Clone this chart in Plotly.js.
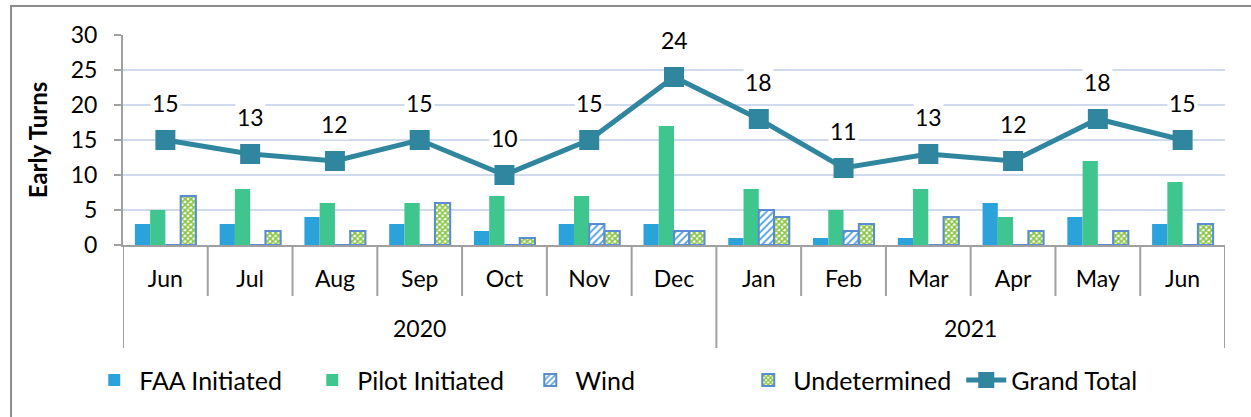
<!DOCTYPE html>
<html>
<head>
<meta charset="utf-8">
<script src="https://cdn.plot.ly/plotly-3.0.1.min.js"></script>
<style>html,body{margin:0;padding:0;background:#fff;}#chart{width:1251px;height:417px;}</style>
</head>
<body>
<div id="chart"></div>
<script>
const months = ["Jun","Jul","Aug","Sep","Oct","Nov","Dec","Jan","Feb","Mar","Apr","May","Jun"];
const years = ["2020","2020","2020","2020","2020","2020","2020","2021","2021","2021","2021","2021","2021"];
const faaInitiated = [3,3,4,3,2,3,3,1,1,1,6,4,3];
const pilotInitiated = [5,8,6,6,7,7,17,8,5,8,4,12,9];
const wind = [0,0,0,0,0,3,2,5,2,0,0,0,0];
const undetermined = [7,2,2,6,1,2,2,4,3,4,2,2,3];
const grandTotal = [15,13,12,15,10,15,24,18,11,13,12,18,15];
const yTicks = [0,5,10,15,20,25,30];

const FONT = "Lato, 'Noto Sans', sans-serif";
const idx = months.map((_, i) => i);

const traces = [
  {type:'bar', name:'FAA Initiated', x:idx, y:faaInitiated, marker:{color:'#2CA2DB'}},
  {type:'bar', name:'Pilot Initiated', x:idx, y:pilotInitiated, marker:{color:'#3FC68F'}},
  {type:'bar', name:'Wind', x:idx, y:wind,
   marker:{color:'#ffffff', line:{color:'#5B8BD0', width:2},
           pattern:{shape:'/', fgcolor:'#5DA5E0', bgcolor:'#ffffff', size:5, solidity:0.4}}},
  {type:'bar', name:'Undetermined', x:idx, y:undetermined,
   marker:{color:'#ffffff', line:{color:'#5B8BD0', width:2},
           pattern:{shape:'x', fgcolor:'#86C440', bgcolor:'#ffffff', size:4, solidity:0.65}}},
  {type:'scatter', mode:'lines+markers', name:'Grand Total', x:idx, y:grandTotal,
   line:{color:'#31869F', width:5}, marker:{symbol:'square', size:20, color:'#31869F'}}
];

const shapes = [];
idx.forEach(i => {
  if (i === 0) return;
  const isYear = years[i-1] !== years[i];
  shapes.push({type:'line', xref:'x', yref:'paper', ysizemode:'pixel', yanchor:0,
    x0:i-0.5, x1:i-0.5, y0:0, y1:isYear ? -103 : -51, line:{color:'#A0A0A0', width:2}});
});
[-0.5, months.length-0.5].forEach(xv => {
  shapes.push({type:'line', xref:'x', yref:'paper', ysizemode:'pixel', yanchor:0,
    x0:xv, x1:xv, y0:0, y1:-103, line:{color:'#A0A0A0', width:2}});
});
shapes.push({type:'rect', xref:'paper', yref:'paper', x0:-0.1016, x1:1.2, y0:-1.5, y1:1.138,
  line:{color:'#8C8C8C', width:2}, fillcolor:'rgba(0,0,0,0)', layer:'below'});

const annotations = [];
idx.forEach(i => {
  annotations.push({x:i, y:grandTotal[i], text:String(grandTotal[i]), showarrow:false,
    yshift:37, bgcolor:'#ffffff', font:{family:FONT, size:23, color:'#000'}});
});
const uniqueYears = [...new Set(years)];
uniqueYears.forEach(yr => {
  const ids = idx.filter(i => years[i] === yr);
  const center = (ids[0] + ids[ids.length-1]) / 2;
  annotations.push({x:center, xref:'x', y:0, yref:'paper', yshift:-83, yanchor:'middle',
    text:yr, showarrow:false, font:{family:FONT, size:23, color:'#000'}});
});

const layout = {
  width:1251, height:417,
  margin:{l:123, r:26, t:35, b:172},
  paper_bgcolor:'#fff', plot_bgcolor:'#fff',
  font:{family:FONT, size:21, color:'#000'},
  barmode:'group', bargap:0.28, bargroupgap:0,
  showlegend:true,
  legend:{orientation:'h', xref:'container', x:0.507, xanchor:'center', yref:'container', y:0.088, yanchor:'middle',
    font:{family:FONT, size:25}, itemwidth:40, traceorder:'normal', entrywidth:163, entrywidthmode:'pixels'},
  xaxis:{range:[-0.5, months.length-0.5], tickmode:'array', tickvals:idx, ticktext:months,
    showline:true, linecolor:'#A0A0A0', linewidth:2, showgrid:false, zeroline:false, ticks:'',
    ticklabelstandoff:12, tickfont:{family:FONT, size:23}},
  yaxis:{range:[0,30], tickmode:'array', tickvals:yTicks, showline:true, linecolor:'#A0A0A0', linewidth:2,
    ticks:'outside', ticklen:7, tickcolor:'#A0A0A0', tickwidth:2, gridcolor:'#CFDBEC', gridwidth:2,
    zeroline:false, tickfont:{family:FONT, size:23}, ticklabelstandoff:12,
    title:{text:'<b>Early Turns</b>', font:{family:FONT, size:24}, standoff:16}},
  shapes:shapes, annotations:annotations
};

Plotly.newPlot('chart', traces, layout, {displayModeBar:false, staticPlot:true});
</script>
</body>
</html>
